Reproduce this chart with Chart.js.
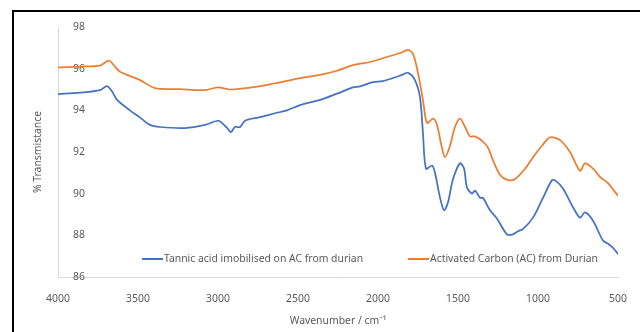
<!DOCTYPE html>
<html>
<head>
<meta charset="utf-8">
<script src="https://cdn.jsdelivr.net/npm/chart.js@4.4.1/dist/chart.umd.min.js"></script>
<style>
  body { margin: 0; background: #fff; }
  #wrap { position: relative; width: 640px; height: 332px; overflow: hidden; }
  #frame { position: absolute; left: 12px; top: 10px; width: 700px; height: 400px; border: 2px solid #000; box-sizing: border-box; }
  #chart { position: absolute; left: 0; top: 0; }
  .leg { position: absolute; top: 250px; font: 10.4px "Noto Sans", sans-serif; color: #595959; white-space: nowrap; line-height: 16px; }
  .leg i { display: inline-block; width: 21px; height: 2px; vertical-align: middle; margin-right: 1px; }
</style>
</head>
<body>
<div id="wrap">
  <div id="frame"></div>
  <canvas id="chart" width="640" height="332"></canvas>
  <div class="leg" style="left:142px"><i style="background:#4472C4"></i>Tannic acid imobilised on AC from durian</div>
  <div class="leg" style="left:408px"><i style="background:#ED7D31"></i>Activated Carbon (AC) from Durian</div>
</div>
<script>
// Tannic acid imobilised on AC from durian
const tannicWn = [4000, 3862, 3737, 3694, 3662, 3631, 3550, 3487, 3425, 3362, 3206, 3081, 3000, 2969, 2937, 2919, 2894, 2862, 2831,
  2737, 2644, 2569, 2487, 2362, 2256, 2156, 2112, 2031, 1970, 1906, 1850, 1812, 1769, 1737, 1719, 1700, 1662, 1644, 1612, 1587,
  1562, 1531, 1487, 1462, 1444, 1412, 1394, 1362, 1344, 1300, 1256, 1194, 1156, 1125, 1094, 1031, 975, 912, 887, 844, 781,
  737, 706, 656, 594, 562, 531, 500];
const tannicT = [94.78, 94.85, 94.97, 95.16, 94.9, 94.5, 94.0, 93.65, 93.3, 93.2, 93.15, 93.3, 93.5, 93.35, 93.1, 92.95, 93.2, 93.2, 93.5,
  93.67, 93.86, 94.0, 94.25, 94.5, 94.8, 95.1, 95.15, 95.35, 95.4, 95.55, 95.7, 95.8, 95.45, 94.6, 92.9, 91.2, 91.35, 91.0, 89.8, 89.2,
  89.6, 90.7, 91.46, 91.2, 90.3, 90.0, 90.15, 89.8, 89.8, 89.2, 88.8, 88.05, 88.05, 88.2, 88.3, 88.85, 89.7, 90.65, 90.6, 90.25, 89.35,
  88.85, 89.1, 88.7, 87.75, 87.6, 87.4, 87.1];

// Activated Carbon (AC) from Durian
const carbonWn = [4000, 3862, 3737, 3681, 3644, 3612, 3487, 3394, 3237, 3081, 3000, 2925, 2737, 2644, 2487, 2362, 2256, 2156, 2050,
  1944, 1862, 1812, 1781, 1750, 1719, 1694, 1656, 1631, 1606, 1581, 1550, 1519, 1487, 1456, 1425, 1394, 1344, 1312, 1281,
  1237, 1187, 1144, 1081, 1031, 975, 925, 862, 800, 737, 706, 656, 612, 562, 531, 500];
const carbonT = [96.06, 96.1, 96.15, 96.38, 96.1, 95.85, 95.45, 95.07, 95.02, 94.97, 95.1, 95.0, 95.16, 95.3, 95.55, 95.7, 95.9, 96.17, 96.32,
  96.56, 96.75, 96.9, 96.7, 95.8, 94.5, 93.4, 93.6, 93.3, 92.4, 91.75, 92.3, 93.2, 93.6, 93.2, 92.75, 92.75, 92.5, 92.2, 91.6,
  90.9, 90.65, 90.7, 91.2, 91.75, 92.3, 92.7, 92.57, 92.0, 91.1, 91.45, 91.2, 90.8, 90.5, 90.2, 89.9];

const xTickValues = [4000, 3500, 3000, 2500, 2000, 1500, 1000, 500];
const yTickValues = [86, 88, 90, 92, 94, 96, 98];

const font = { family: "Noto Sans", size: 10.4 };
const grey = "#595959";

function toPoints(xs, ys) {
  return xs.map((x, i) => ({ x: x, y: ys[i] }));
}

const ctx = document.getElementById("chart").getContext("2d");
const chart = new Chart(ctx, {
  type: "line",
  data: {
    datasets: [
      {
        label: "Tannic acid imobilised on AC from durian",
        data: toPoints(tannicWn, tannicT),
        borderColor: "#4472C4",
        borderWidth: 1.75,
        pointRadius: 0,
        tension: 0.3,
      },
      {
        label: "Activated Carbon (AC) from Durian",
        data: toPoints(carbonWn, carbonT),
        borderColor: "#ED7D31",
        borderWidth: 1.75,
        pointRadius: 0,
        tension: 0.3,
      },
    ],
  },
  options: {
    responsive: false,
    animation: false,
    layout: { padding: { left: 27, top: 27, right: 22, bottom: 0 } },
    plugins: { legend: { display: false }, tooltip: { enabled: false } },
    scales: {
      x: {
        type: "linear",
        reverse: true,
        min: 500,
        max: 4000,
        afterBuildTicks: (s) => { s.ticks = xTickValues.map((v) => ({ value: v })); },
        afterFit: (s) => { s.height = 55; },
        grid: { display: false },
        border: { color: "#d9d9d9", width: 1 },
        ticks: { color: grey, font: font, padding: 8, maxRotation: 0, autoSkip: false, callback: (v) => String(v) },
        title: { display: true, text: "Wavenumber / cm⁻¹", color: grey, font: font, padding: { top: 4, bottom: 5 } },
      },
      y: {
        min: 86,
        max: 98,
        afterBuildTicks: (s) => { s.ticks = yTickValues.map((v) => ({ value: v })); },
        afterFit: (s) => { s.width = 31; },
        grid: { display: false },
        border: { color: "#d9d9d9", width: 1 },
        ticks: { color: grey, font: font, mirror: true, padding: 15, callback: (v) => String(v) },
        title: { display: true, text: "% Transmistance", color: grey, font: font, padding: { top: 5, bottom: 4 } },
      },
    },
  },
});
</script>
</body>
</html>
